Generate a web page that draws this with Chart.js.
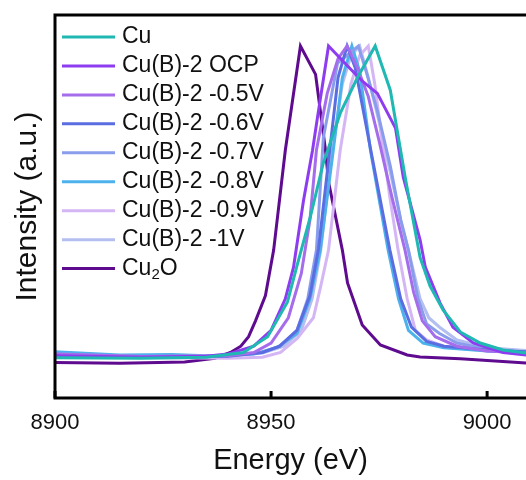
<!DOCTYPE html>
<html>
<head>
<meta charset="utf-8">
<script src="https://cdn.jsdelivr.net/npm/chart.js@4.4.0/dist/chart.umd.min.js"></script>
<style>
  body { margin: 0; background: #fff; }
  canvas { display: block; }
</style>
</head>
<body>
<canvas id="myChart" width="526" height="480"></canvas>
<script>
const ctx = document.getElementById("myChart");

// energies (eV) and normalised intensities
const cuEnergy = [8900, 8920, 8935, 8943.6, 8949.2, 8953.8, 8956.1, 8959.1, 8962.1, 8966.1, 8970, 8974.1, 8977.6, 8981.1, 8984.5, 8986.8, 8989.8, 8993.8, 8998.4, 9003.7, 9010];
const cuIntensity = [0.013, 0.012, 0.015, 0.03, 0.08, 0.19, 0.31, 0.46, 0.63, 0.79, 0.9, 1.0, 0.86, 0.58, 0.33, 0.24, 0.165, 0.095, 0.06, 0.038, 0.027];

const ocpEnergy = [8900, 8920, 8935, 8940, 8946, 8950, 8953.3, 8955.2, 8957.5, 8959.6, 8960.7, 8963.3, 8967.5, 8971, 8974.6, 8978.8, 8980.6, 8984.5, 8985.7, 8989.1, 8992.1, 8996.8, 9003.7, 9010];
const ocpIntensity = [0.02, 0.015, 0.018, 0.025, 0.05, 0.1, 0.2, 0.3, 0.51, 0.67, 0.77, 1.0, 0.94, 0.89, 0.85, 0.74, 0.585, 0.386, 0.3, 0.187, 0.11, 0.06, 0.03, 0.021];

const m05Energy = [8900, 8920, 8940, 8946, 8950, 8954, 8957, 8959, 8960.5, 8963, 8965.5, 8967.6, 8970, 8972.5, 8975, 8978, 8981, 8983, 8985, 8988, 8993, 9000, 9010];
const m05Intensity = [0.025, 0.017, 0.02, 0.03, 0.06, 0.14, 0.28, 0.45, 0.67, 0.85, 0.96, 1.0, 0.93, 0.84, 0.7, 0.52, 0.354, 0.22, 0.13, 0.08, 0.05, 0.035, 0.028];

const m06Energy = [8900, 8920, 8940, 8948, 8952, 8956, 8959, 8961, 8963.5, 8965.5, 8967.6, 8969.5, 8971, 8973.5, 8977.5, 8980, 8982.5, 8986, 8990, 9000, 9010];
const m06Intensity = [0.02, 0.015, 0.018, 0.03, 0.05, 0.1, 0.21, 0.36, 0.66, 0.9, 1.0, 0.93, 0.82, 0.64, 0.354, 0.2, 0.11, 0.065, 0.05, 0.038, 0.032];

const m07Energy = [8900, 8920, 8940, 8948, 8952, 8956, 8958.5, 8960.5, 8962.1, 8965.4, 8970.2, 8972, 8974.5, 8977.6, 8980, 8981.8, 8984, 8986, 8989, 8993, 9000, 9010];
const m07Intensity = [0.025, 0.017, 0.02, 0.03, 0.05, 0.1, 0.2, 0.354, 0.71, 0.946, 1.0, 0.92, 0.8, 0.62, 0.45, 0.354, 0.2, 0.12, 0.09, 0.06, 0.04, 0.03];

const m08Energy = [8900, 8915, 8927, 8935, 8940, 8946, 8951.5, 8956, 8959, 8961.4, 8964.4, 8966.5, 8968.7, 8970.5, 8973, 8977.1, 8979.5, 8981.8, 8985.2, 8990, 9000, 9010];
const m08Intensity = [0.032, 0.022, 0.024, 0.02, 0.022, 0.025, 0.047, 0.09, 0.2, 0.354, 0.67, 0.9, 1.0, 0.92, 0.67, 0.354, 0.2, 0.1, 0.06, 0.045, 0.035, 0.03];

const m09Energy = [8900, 8920, 8940, 8948, 8952.2, 8956.1, 8959.8, 8961.5, 8963.3, 8966, 8968.5, 8970.5, 8972.5, 8974, 8975.5, 8977.5, 8979.4, 8981.5, 8983.4, 8986, 8990, 9000, 9010];
const m09Intensity = [0.02, 0.014, 0.012, 0.015, 0.03, 0.075, 0.14, 0.24, 0.354, 0.67, 0.88, 0.97, 1.0, 0.88, 0.72, 0.52, 0.354, 0.2, 0.1, 0.07, 0.05, 0.035, 0.028];

const m10Energy = [8900, 8920, 8940, 8948, 8953, 8957, 8959.5, 8961.5, 8964, 8966.5, 8968.5, 8970.5, 8972.5, 8975, 8977.6, 8980, 8982.2, 8984.5, 8986.5, 8989, 8993, 9000, 9010];
const m10Intensity = [0.026, 0.016, 0.018, 0.028, 0.05, 0.1, 0.2, 0.354, 0.65, 0.88, 0.97, 1.0, 0.9, 0.76, 0.6, 0.45, 0.33, 0.2, 0.14, 0.11, 0.07, 0.045, 0.035];

const cu2oEnergy = [8900, 8915, 8930, 8937, 8940.6, 8943, 8944.8, 8946.4, 8948.7, 8950.6, 8953.3, 8956.8, 8960.3, 8962.6, 8963.3, 8966.5, 8967.7, 8971.1, 8975.3, 8981.5, 8984.5, 8993.8, 9010];
const cu2oIntensity = [-0.002, -0.004, 0.0, 0.012, 0.03, 0.05, 0.08, 0.13, 0.21, 0.354, 0.67, 1.0, 0.91, 0.67, 0.57, 0.354, 0.25, 0.117, 0.054, 0.022, 0.016, 0.01, -0.004];

const labels = ["Cu", "Cu(B)-2 OCP", "Cu(B)-2 -0.5V", "Cu(B)-2 -0.6V", "Cu(B)-2 -0.7V", "Cu(B)-2 -0.8V", "Cu(B)-2 -0.9V", "Cu(B)-2 -1V", "Cu₂O"];
const colors = ["#1fb8b3", "#8e3cf0", "#a56deb", "#5a6ee2", "#8a9cec", "#4db2ec", "#d4b6f5", "#b3bef1", "#5e0b8f"];
const xTicks = [8900, 8950, 9000];

const energies = [cuEnergy, ocpEnergy, m05Energy, m06Energy, m07Energy, m08Energy, m09Energy, m10Energy, cu2oEnergy];
const intensities = [cuIntensity, ocpIntensity, m05Intensity, m06Intensity, m07Intensity, m08Intensity, m09Intensity, m10Intensity, cu2oIntensity];

const FONT = "'Liberation Sans', Arial, sans-serif";

// frame, inward ticks and the legend inside the plot
const frameAndLegend = {
  id: "frameAndLegend",
  afterDatasetsDraw(chart) {
    const c = chart.ctx;
    const { left, top, right, bottom } = chart.chartArea;
    const xs = chart.scales.x;
    c.save();
    c.strokeStyle = "#000";
    c.lineWidth = 3;
    c.lineJoin = "miter";
    c.beginPath();
    c.moveTo(right + 10, top);
    c.lineTo(left, top);
    c.lineTo(left, bottom);
    c.lineTo(right + 10, bottom);
    c.stroke();
    xTicks.forEach((v) => {
      const px = xs.getPixelForValue(v);
      c.beginPath();
      c.moveTo(px, bottom);
      c.lineTo(px, bottom - 7);
      c.stroke();
    });

    c.textBaseline = "middle";
    c.textAlign = "left";
    c.fillStyle = "#111";
    labels.forEach((label, i) => {
      const y = top + 22 + i * 28.95;
      c.strokeStyle = colors[i];
      c.lineWidth = 3;
      c.beginPath();
      c.moveTo(left + 7, y);
      c.lineTo(left + 60, y);
      c.stroke();
      let x = left + 67;
      c.font = "23px " + FONT;
      if (label.includes("₂")) {
        const [a, b] = label.split("₂");
        c.fillText(a, x, y);
        x += c.measureText(a).width;
        c.font = "15px " + FONT;
        c.fillText("2", x, y + 6);
        x += c.measureText("2").width;
        c.font = "23px " + FONT;
        c.fillText(b, x, y);
      } else {
        c.fillText(label, x, y);
      }
    });
    c.restore();
  },
};

new Chart(ctx, {
  type: "line",
  data: {
    datasets: labels.map((label, i) => ({
      label: label,
      data: energies[i].map((e, j) => ({ x: e, y: intensities[i][j] })),
      borderColor: colors[i],
      backgroundColor: colors[i],
      borderWidth: 3,
      pointRadius: 0,
      tension: 0,
      fill: false,
    })),
  },
  options: {
    responsive: false,
    animation: false,
    layout: { padding: { top: 15, right: 0, left: 0, bottom: 0 } },
    plugins: { legend: { display: false }, tooltip: { enabled: false } },
    scales: {
      x: {
        type: "linear",
        min: 8900,
        max: 9009,
        afterFit: (scale) => { scale.height = 82; },
        afterBuildTicks: (scale) => { scale.ticks = xTicks.map((v) => ({ value: v })); },
        ticks: {
          callback: (v) => String(v),
          color: "#111",
          font: { family: FONT, size: 22 },
          padding: 12,
          maxRotation: 0,
        },
        grid: { display: false, drawTicks: false },
        border: { display: false },
        title: {
          display: true,
          text: "Energy (eV)",
          color: "#111",
          font: { family: FONT, size: 29 },
          padding: { top: 0, bottom: 2 },
        },
      },
      y: {
        min: -0.114,
        max: 1.098,
        afterFit: (scale) => { scale.width = 55; },
        ticks: { display: false },
        grid: { display: false, drawTicks: false },
        border: { display: false },
        title: {
          display: true,
          text: "Intensity (a.u.)",
          color: "#111",
          font: { family: FONT, size: 30 },
          padding: { top: 10, bottom: 0 },
        },
      },
    },
  },
  plugins: [frameAndLegend],
});
</script>
</body>
</html>
